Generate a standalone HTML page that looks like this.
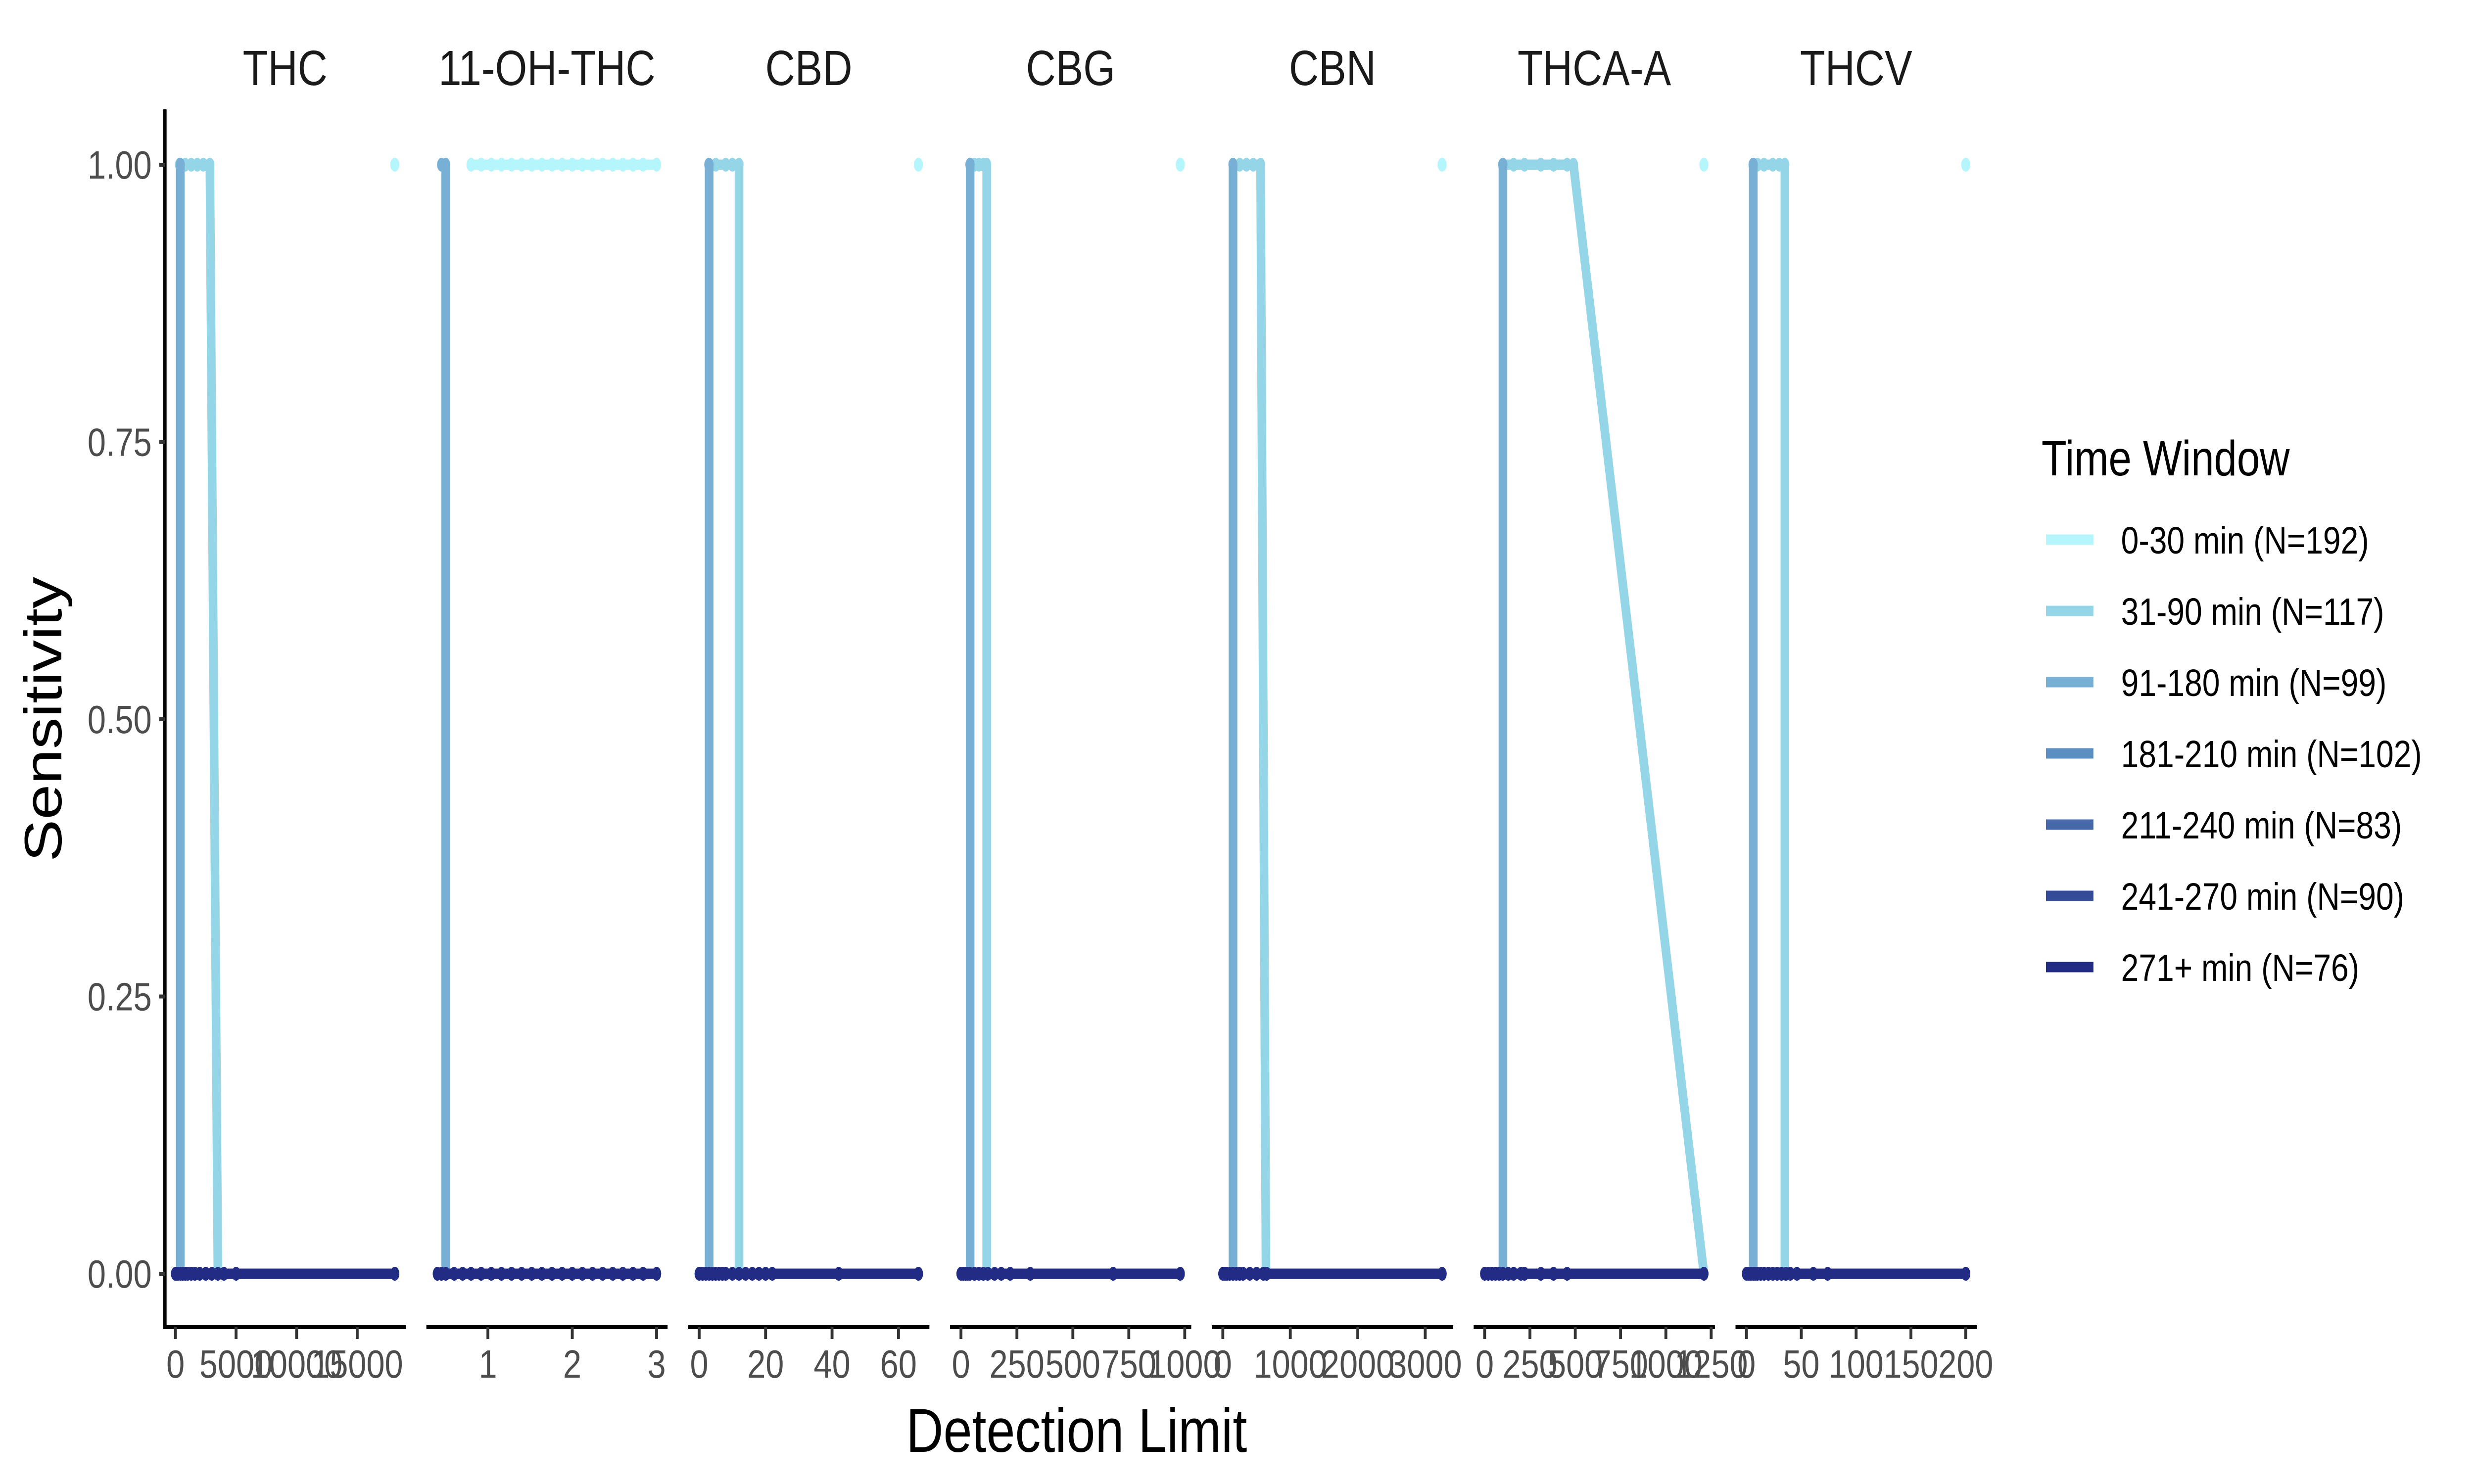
<!DOCTYPE html>
<html><head><meta charset="utf-8"><style>
html,body{margin:0;padding:0;background:#fff;width:100vw;height:100vh;overflow:hidden;}
svg{display:block;width:100vw;height:100vh;font-family:"Liberation Sans",Arial,sans-serif;overflow:hidden;}
</style></head><body>
<svg id="chart" viewBox="0 0 6000 3000" preserveAspectRatio="none" xmlns="http://www.w3.org/2000/svg">
<rect width="6000" height="3000" fill="#fff"/>
<g id="panels"></g>
<line x1="400" y1="221" x2="400" y2="2687" stroke="#000" stroke-width="8"/>
<g id="yaxis"></g>
<text x="104" y="1454" font-size="128" text-anchor="middle" transform="rotate(-90 104 1454)" dominant-baseline="central">Sensitivity</text>
<text x="2611" y="2935" font-size="125" text-anchor="middle">Detection Limit</text>
<g id="legend">
<text x="4951" y="961" font-size="100">Time Window</text>
</g>
</svg>
<script>
const panelNames = ["THC","11-OH-THC","CBD","CBG","CBN","THCA-A","THCV"];
const seriesNames = ["0-30 min (N=192)","31-90 min (N=117)","91-180 min (N=99)","181-210 min (N=102)","211-240 min (N=83)","241-270 min (N=90)","271+ min (N=76)"];
const seriesColors = ["#b5f6fc","#94d5e8","#78b0d5","#5b8fc2","#4668a8","#344c98","#232c85"];
const panelTicks = [[0,5000,10000,15000],[1,2,3],[0,20,40,60],[0,250,500,750,1000],[0,1000,2000,3000],[0,250,500,750,1000,1250],[0,50,100,150,200]];
const yTicks = [0,0.25,0.5,0.75,1];
const yTickLabels = ["0.00","0.25","0.50","0.75","1.00"];
// zero-sensitivity threshold grid (series 181-210 … 271+)
const gridX = [
 [0,100,200,400,600,800,1000,1300,1600,2000,2500,3000,3500,4000,5000,18100],
 [0.4,0.45,0.5,0.6,0.7,0.8,0.92,1.04,1.16,1.28,1.4,1.52,1.64,1.76,1.88,2.0,2.12,2.24,2.36,2.48,2.6,2.72,2.84,3.0],
 [0,1,2,3,4,5,6,7,8,10,12,14,16,18,20,22,42,66],
 [0,10,20,30,40,60,80,100,120,150,180,220,310,680,980],
 [0,30,60,100,150,200,250,300,400,500,600,650,3250],
 [0,20,40,60,80,100,130,160,200,220,310,380,455,1210],
 [0,2,4,6,8,10,13,16,20,24,28,32,36,40,46,61,74,200]
];
// 0-30 min
const s0X = [[18100],[0.8,0.92,1.04,1.16,1.28,1.4,1.52,1.64,1.76,1.88,2.0,2.12,2.24,2.36,2.48,2.6,2.72,2.84,3.0],[66],[980],[3250],[1210],[200]];
const s0Y = [[1],[1,1,1,1,1,1,1,1,1,1,1,1,1,1,1,1,1,1,1],[1],[1],[1],[1],[1]];
// 31-90 min
const s31X = [[330,800,1300,1800,2300,2840,3500,4000,5000,18100],[0.4,3.0],[3,5,8,10,12,12,14,20,42,66],[40,60,80,100,115,115,150,310,680,980],[150,250,350,450,560,640,3250],[100,160,220,310,380,455,490,1210],[6,10,16,24,30,35,35,46,74,200]];
const s31Y = [[1,1,1,1,1,1,0,0,0,0],[0,0],[1,1,1,1,1,0,0,0,0,0],[1,1,1,1,1,0,0,0,0,0],[1,1,1,1,1,0,0],[1,1,1,1,1,1,1,0],[1,1,1,1,1,1,0,0,0,0]];
// 91-180 min
const s91X = [[390,400,400,18100],[0.45,0.5,0.5,3.0],[2.9,3,3,66],[40,41,41,980],[150,151,151,3250],[100,101,101,1210],[6,6.2,6.2,200]];
const s91Y = [[1,1,0,0],[1,1,0,0],[1,1,0,0],[1,1,0,0],[1,1,0,0],[1,1,0,0],[1,1,0,0]];

const NS="http://www.w3.org/2000/svg";
const PX0=399, PITCH=635, PW=585, Y0=2575, Y1=333, AXY=2683;
function yScale(v){return Y0+(Y1-Y0)*v;}
function mk(tag,attrs,parent){const e=document.createElementNS(NS,tag);for(const k in attrs)e.setAttribute(k,attrs[k]);parent.appendChild(e);return e;}
const panelsG=document.getElementById('panels');
function fmt(v){return String(v);}
panelNames.forEach((name,p)=>{
  let all=[].concat(gridX[p],s0X[p],s31X[p],s91X[p]);
  let mn=Math.min(...all), mx=Math.max(...all), r=mx-mn;
  const x0=PX0+PITCH*p;
  const xs=v=>x0+PW*((v-(mn-0.05*r))/(1.1*r));
  const g=mk('g',{},panelsG);
  
  
  const st=mk('text',{x:x0+PW/2,y:172,'font-size':100,'text-anchor':'middle',fill:'#1a1a1a'},g);
  st.textContent=name;
  
  
  const ax=mk('line',{x1:x0,y1:AXY,x2:x0+PW,y2:AXY,stroke:'#000','stroke-width':8},g);
  
  
  panelTicks[p].forEach(t=>{
    const tx=xs(t);
    const tl=mk('line',{x1:tx,y1:AXY,x2:tx,y2:AXY+24,stroke:'#333','stroke-width':7},g);
    
    
    const lb=mk('text',{x:tx,y:2785,'font-size':80,'text-anchor':'middle',fill:'#4d4d4d'},g);
    lb.textContent=fmt(t);
    
    
  });
  const series=[];
  series.push([s0X[p],s0Y[p]]);
  series.push([s31X[p],s31Y[p]]);
  series.push([s91X[p],s91Y[p]]);
  for(let k=3;k<7;k++) series.push([gridX[p],gridX[p].map(()=>0)]);
  series.forEach((s,k)=>{
    const [X,Y]=s;
    const sg=mk('g',{},g);
    
    
    if(X.length>1){
      const pts=X.map((x,i)=>xs(x).toFixed(1)+','+yScale(Y[i]).toFixed(1)).join(' ');
      const pl=mk('polyline',{points:pts,fill:'none',stroke:seriesColors[k],'stroke-width':21,'stroke-linejoin':'round'},sg);
      
      
    }
    X.forEach((x,i)=>{
      const c=mk('ellipse',{cx:xs(x),cy:yScale(Y[i]),rx:11,ry:14,fill:seriesColors[k]},sg);
      
      
    });
  });
});
const ya=document.getElementById('yaxis');
yTicks.forEach((v,i)=>{
  const y=yScale(v);
  const t=mk('line',{x1:386,y1:y,x2:400,y2:y,stroke:'#333','stroke-width':8},ya);
  
  
  const l=mk('text',{x:368,y:y+28,'font-size':80,'text-anchor':'end',fill:'#4d4d4d'},ya);
  l.textContent=yTickLabels[i];
  
  
});
const lg=document.getElementById('legend');
seriesNames.forEach((n,i)=>{
  const cy=1091+144*i;
  const e=mk('g',{},lg);
  
  
  const k=mk('line',{x1:4962,y1:cy,x2:5077,y2:cy,stroke:seriesColors[i],'stroke-width':21},e);
  
  
  const t=mk('text',{x:5144,y:cy+28,'font-size':77},e);
  t.textContent=n;
  
  
});
</script>
</body></html>
